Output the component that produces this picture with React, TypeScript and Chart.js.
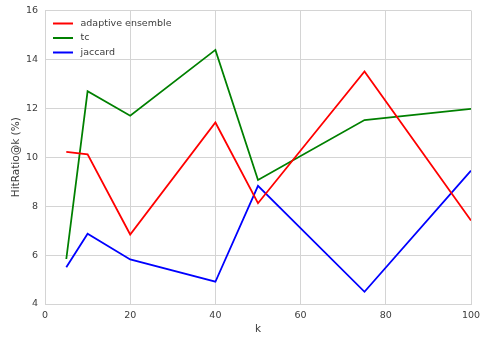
import React, { useEffect, useRef } from "react";
import { Chart, registerables } from "chart.js";

Chart.register(...registerables);

const kValues = [5, 10, 20, 40, 50, 75, 100];
const adaptiveEnsemble = [10.22, 10.12, 6.84, 11.42, 8.12, 13.51, 7.41];
const tc = [5.84, 12.7, 11.7, 14.39, 9.07, 11.52, 11.98];
const jaccard = [5.5, 6.87, 5.82, 4.91, 8.83, 4.5, 9.45];
const seriesNames = ["adaptive ensemble", "tc", "jaccard"];
const seriesColors = ["#ff0000", "#008000", "#0000ff"];
const xTicks = [0, 20, 40, 60, 80, 100];
const yTicks = [4, 6, 8, 10, 12, 14, 16];

const FONT = "'DejaVu Sans', sans-serif";
const GRID = "#d4d4d4";
const TEXT = "#3c3c3c";

const insideLegend = {
  id: "insideLegend",
  afterDatasetsDraw(chart: any) {
    const { ctx, chartArea } = chart;
    ctx.save();
    ctx.font = `9.5px ${FONT}`;
    ctx.textBaseline = "middle";
    ctx.textAlign = "left";
    chart.data.datasets.forEach((ds: any, i: number) => {
      const y = chartArea.top + 13 + i * 14.5;
      const x0 = chartArea.left + 8;
      ctx.strokeStyle = ds.borderColor;
      ctx.lineWidth = 2;
      ctx.beginPath();
      ctx.moveTo(x0, y);
      ctx.lineTo(x0 + 20, y);
      ctx.stroke();
      ctx.fillStyle = TEXT;
      ctx.fillText(ds.label, x0 + 27.5, y);
    });
    ctx.restore();
  },
};

export default function App() {
  const ref = useRef<HTMLCanvasElement | null>(null);

  useEffect(() => {
    document.body.style.margin = "0";
    const series = [adaptiveEnsemble, tc, jaccard];
    const chart = new Chart(ref.current as HTMLCanvasElement, {
      type: "line",
      data: {
        datasets: series.map((vals, i) => ({
          label: seriesNames[i],
          data: kValues.map((k, j) => ({ x: k, y: vals[j] })),
          borderColor: seriesColors[i],
          backgroundColor: seriesColors[i],
          borderWidth: 1.8,
          pointRadius: 0,
          tension: 0,
          fill: false,
        })),
      },
      options: {
        animation: false,
        responsive: false,
        maintainAspectRatio: false,
        layout: { padding: { top: 10.5, right: 9, left: 0, bottom: 0 } },
        plugins: {
          legend: { display: false },
          tooltip: { enabled: false },
        },
        scales: {
          x: {
            type: "linear",
            min: 0,
            max: 100,
            afterBuildTicks: (s: any) => {
              s.ticks = xTicks.map((v) => ({ value: v }));
            },
            afterFit: (s: any) => {
              s.height = 33;
              s.paddingLeft = 0;
              s.paddingRight = 0;
            },
            grid: { color: GRID, drawTicks: false, lineWidth: 1 },
            border: { color: GRID, width: 1 },
            ticks: {
              color: TEXT,
              font: { family: FONT, size: 9.5 },
              padding: 6,
              maxRotation: 0,
            },
            title: {
              display: true,
              text: "k",
              color: TEXT,
              font: { family: FONT, size: 10.5 },
              padding: { top: 0, bottom: 1 },
            },
          },
          y: {
            type: "linear",
            min: 4,
            max: 16,
            afterBuildTicks: (s: any) => {
              s.ticks = yTicks.map((v) => ({ value: v }));
            },
            afterFit: (s: any) => {
              s.width = 45;
              s.paddingTop = 0;
              s.paddingBottom = 0;
            },
            grid: { color: GRID, drawTicks: false, lineWidth: 1 },
            border: { color: GRID, width: 1 },
            ticks: {
              color: TEXT,
              font: { family: FONT, size: 9.5 },
              padding: 7,
            },
            title: {
              display: true,
              text: "HitRatio@k (%)",
              color: TEXT,
              font: { family: FONT, size: 10.5 },
              padding: { top: 10, bottom: 0 },
            },
          },
        },
      },
      plugins: [insideLegend],
    });
    return () => chart.destroy();
  }, []);

  return (
    <div style={{ width: 480, height: 337 }}>
      <canvas ref={ref} width={480} height={337} style={{ display: "block" }} />
    </div>
  );
}
